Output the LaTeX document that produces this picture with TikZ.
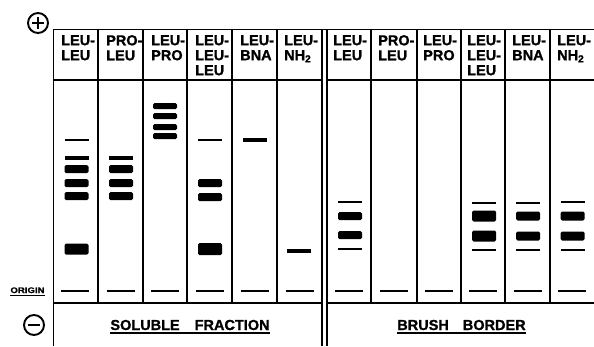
\documentclass[tikz,border=0pt]{standalone}
\usepackage{fontspec}
\setmainfont{Liberation Sans}[BoldFeatures={FakeBold=1.2}]
\newcommand\hfont{\bfseries\fontsize{14.5}{15}\selectfont}
\newcommand\gband[3]{\fill[rounded corners=1.5pt] (#1-12,#2-#3/2) rectangle (#1+12,#2+#3/2);}
\newcommand\gline[3]{\draw[line width=#3] (#1-12,#2) -- (#1+12,#2);}
\newcommand\gorig[1]{\draw[line width=1.6pt] (#1-14,291) -- (#1+14,291);}
\begin{document}
\begin{tikzpicture}[x=1pt,y=-1pt,
  grid/.style={line width=1.8pt},
  hdr/.style={anchor=north west,inner sep=0pt,align=left,font=\hfont},
  sign/.style={circle,draw,line width=1.9pt,minimum size=20pt,inner sep=0pt}]
\fill[white] (0,0) rectangle (594,346);
\useasboundingbox (0,0) rectangle (594,346);
% grid
\draw[grid] (53.5,346) -- (53.5,29.5) -- (594,29.5);
\draw[grid] (322,29.5) -- (322,346);
\draw[grid] (327,29.5) -- (327,346);
\draw[grid] (53.5,80) -- (322,80) (327,80) -- (594,80);
\draw[grid] (53.5,303) -- (322,303) (327,303) -- (594,303);
\foreach \x in {98,143,187,232,277,371,417,461,505,550}
  {\draw[grid] (\x,29.5) -- (\x,303);}
% headers
\node[hdr] (h1) at (61,35) {LEU-\\LEU};
\node[hdr] (h2) at (106,35) {PRO-\\LEU};
\node[hdr] (h3) at (151,35) {LEU-\\PRO};
\node[hdr] (h4) at (195,35) {LEU-\\LEU-\\LEU};
\node[hdr] (h5) at (240,35) {LEU-\\BNA};
\node[hdr] (h6) at (284,35) {LEU-\\NH\textsubscript{2}};
\node[hdr] (h7) at (333,35) {LEU-\\LEU};
\node[hdr] (h8) at (378,35) {PRO-\\LEU};
\node[hdr] (h9) at (423,35) {LEU-\\PRO};
\node[hdr] (h10) at (467,35) {LEU-\\LEU-\\LEU};
\node[hdr] (h11) at (512,35) {LEU-\\BNA};
\node[hdr] (h12) at (557,35) {LEU-\\NH\textsubscript{2}};
% signs
\node[sign] (plus) at (38,23) {};
\draw[line width=1.9pt] (plus.center) ++(-6,0) -- ++(12,0) (plus.center) ++(0,-6) -- ++(0,12);
\node[sign] (minus) at (34,325) {};
\draw[line width=1.9pt] (minus.center) ++(-6,0) -- ++(12,0);
% labels
\node[anchor=base,inner sep=0pt,font=\bfseries\fontsize{8}{9}\selectfont] (orig) at (27.5,293) {\scalebox{1.2}[1]{ORIGIN}};
\draw[line width=1pt] ([yshift=-2pt]orig.base west) -- ([yshift=-2pt]orig.base east);
\node[anchor=base,inner sep=0pt,font=\hfont] (sol) at (190,330) {SOLUBLE\hspace{15pt}FRACTION};
\draw[line width=1.3pt] ([yshift=-3pt]sol.base west) -- ([yshift=-3pt]sol.base east);
\node[anchor=base,inner sep=0pt,font=\hfont] (bb) at (461.5,330) {BRUSH\hspace{14pt}BORDER};
\draw[line width=1.3pt] ([yshift=-3pt]bb.base west) -- ([yshift=-3pt]bb.base east);
% lane 1 LEU-LEU
\gline{76.5}{140}{1.5pt}
\gline{76.5}{158}{3.5pt}
\gband{76.5}{169}{8}
\gband{76.5}{183}{8}
\gband{76.5}{196}{8}
\gband{76.5}{249}{11}
% lane 2 PRO-LEU
\gline{121}{158}{3.5pt}
\gband{121}{169}{8}
\gband{121}{183}{8}
\gband{121}{196}{8}
% lane 3 LEU-PRO
\gband{165}{106}{6}
\gband{165}{116}{6}
\gband{165}{127}{6}
\gband{165}{136}{6}
% lane 4 LEU-LEU-LEU
\gline{210}{140}{1.5pt}
\gband{210}{183}{8}
\gband{210}{197}{8}
\gband{210}{249}{12}
% lane 5 LEU-BNA
\gline{254.5}{140}{3.5pt}
% lane 6 LEU-NH2
\gline{299}{251}{3.5pt}
% lane 7 LEU-LEU
\gline{350}{202}{2pt}
\gband{350}{216}{8}
\gband{350}{235}{8}
\gline{350}{249}{2pt}
% lane 10 LEU-LEU-LEU
\gline{484}{203}{2pt}
\gband{484}{216}{11}
\gband{484}{236}{11}
\gline{484}{250}{2pt}
% lane 11 LEU-BNA
\gline{528}{203}{2pt}
\gband{528}{216}{9}
\gband{528}{236}{9}
\gline{528}{250}{2pt}
% lane 12 LEU-NH2
\gline{572.5}{202}{2pt}
\gband{572.5}{216}{9}
\gband{572.5}{236}{9}
\gline{572.5}{250}{2pt}
% origin lines
\foreach \c in {75,120.5,165,209.5,254.5,299.5,349,394,439,483,527.5,572}
  {\gorig{\c}}
\end{tikzpicture}
\end{document}
